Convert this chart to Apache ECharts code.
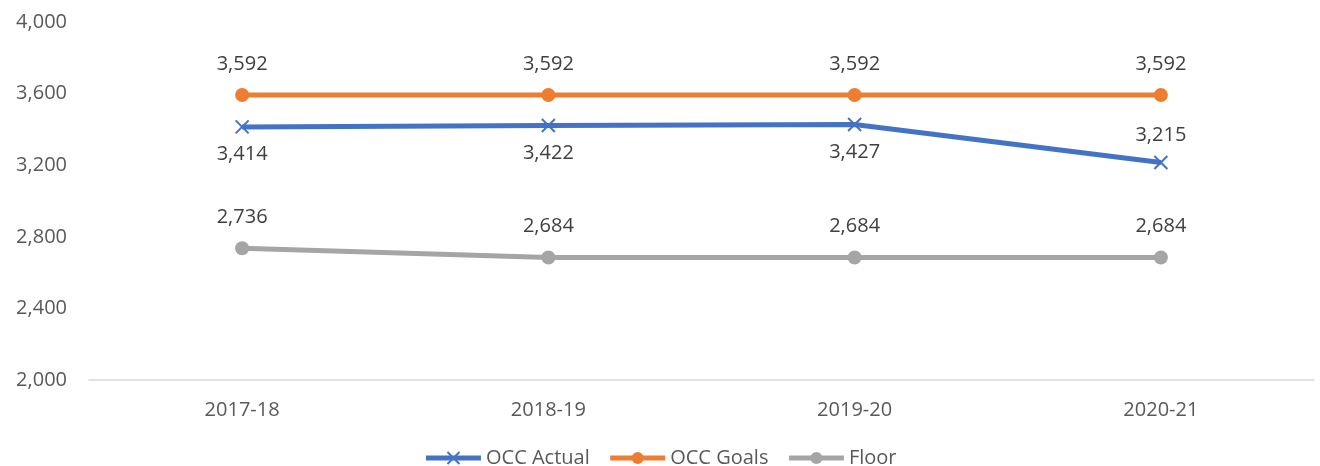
<!DOCTYPE html>
<html>
<head>
<meta charset="utf-8">
<script src="https://cdn.jsdelivr.net/npm/echarts@6/dist/echarts.min.js"></script>
<style>
  html, body { margin: 0; padding: 0; background: #fff; }
  #chart { width: 1320px; height: 466px; }
</style>
</head>
<body>
<div id="chart"></div>
<script>
const years = ['2017-18', '2018-19', '2019-20', '2020-21'];
const occActual = [3414, 3422, 3427, 3215];
const occGoals = [3592, 3592, 3592, 3592];
const floor = [2736, 2684, 2684, 2684];
// where the actual labels sit
const actualLabelPos = ['bottom', 'bottom', 'bottom', 'top'];

const fontFamily = 'Open Sans, Noto Sans, sans-serif';
const fmt = v => v.toLocaleString('en-US');

const chart = echarts.init(document.getElementById('chart'));

const labelBase = {
    show: true,
    fontFamily: fontFamily,
    fontSize: 20,
    color: '#404040',
    distance: 10,
    formatter: p => fmt(p.value)
};

chart.setOption({
    animation: false,
    grid: { left: 89, right: 6, top: 22, bottom: 86 },
    legend: {
        top: 443,
        left: 'center',
        itemWidth: 55,
        itemHeight: 15,
        itemGap: 18,
        lineStyle: { width: 5 },
        textStyle: { fontFamily: fontFamily, fontSize: 20, color: '#595959' },
        data: ['OCC Actual', 'OCC Goals', 'Floor']
    },
    xAxis: {
        type: 'category',
        data: years,
        axisLine: { lineStyle: { color: '#d9d9d9', width: 1.5 } },
        axisTick: { show: false },
        axisLabel: { fontFamily: fontFamily, fontSize: 20, color: '#595959', margin: 20 }
    },
    yAxis: {
        type: 'value',
        min: 2000,
        max: 4000,
        interval: 400,
        splitLine: { show: false },
        axisLine: { show: false },
        axisLabel: {
            fontFamily: fontFamily, fontSize: 20, color: '#595959', margin: 22,
            formatter: v => fmt(v)
        }
    },
    series: [
        {
            name: 'OCC Actual',
            type: 'line',
            data: occActual.map((v, i) => ({ value: v, label: { position: actualLabelPos[i] } })),
            symbol: 'path://M0,0L10,10M10,0L0,10',
            symbolSize: 13,
            lineStyle: { color: '#4472C4', width: 5 },
            itemStyle: { color: '#4472C4', borderColor: '#4472C4', borderWidth: 2 },
            label: labelBase
        },
        {
            name: 'OCC Goals',
            type: 'line',
            data: occGoals,
            symbol: 'circle',
            symbolSize: 14,
            lineStyle: { color: '#ED7D31', width: 5 },
            itemStyle: { color: '#ED7D31' },
            label: Object.assign({}, labelBase, { position: 'top', distance: 14 })
        },
        {
            name: 'Floor',
            type: 'line',
            data: floor,
            symbol: 'circle',
            symbolSize: 14,
            lineStyle: { color: '#A5A5A5', width: 5 },
            itemStyle: { color: '#A5A5A5' },
            label: Object.assign({}, labelBase, { position: 'top', distance: 14 })
        }
    ]
});
</script>
</body>
</html>
